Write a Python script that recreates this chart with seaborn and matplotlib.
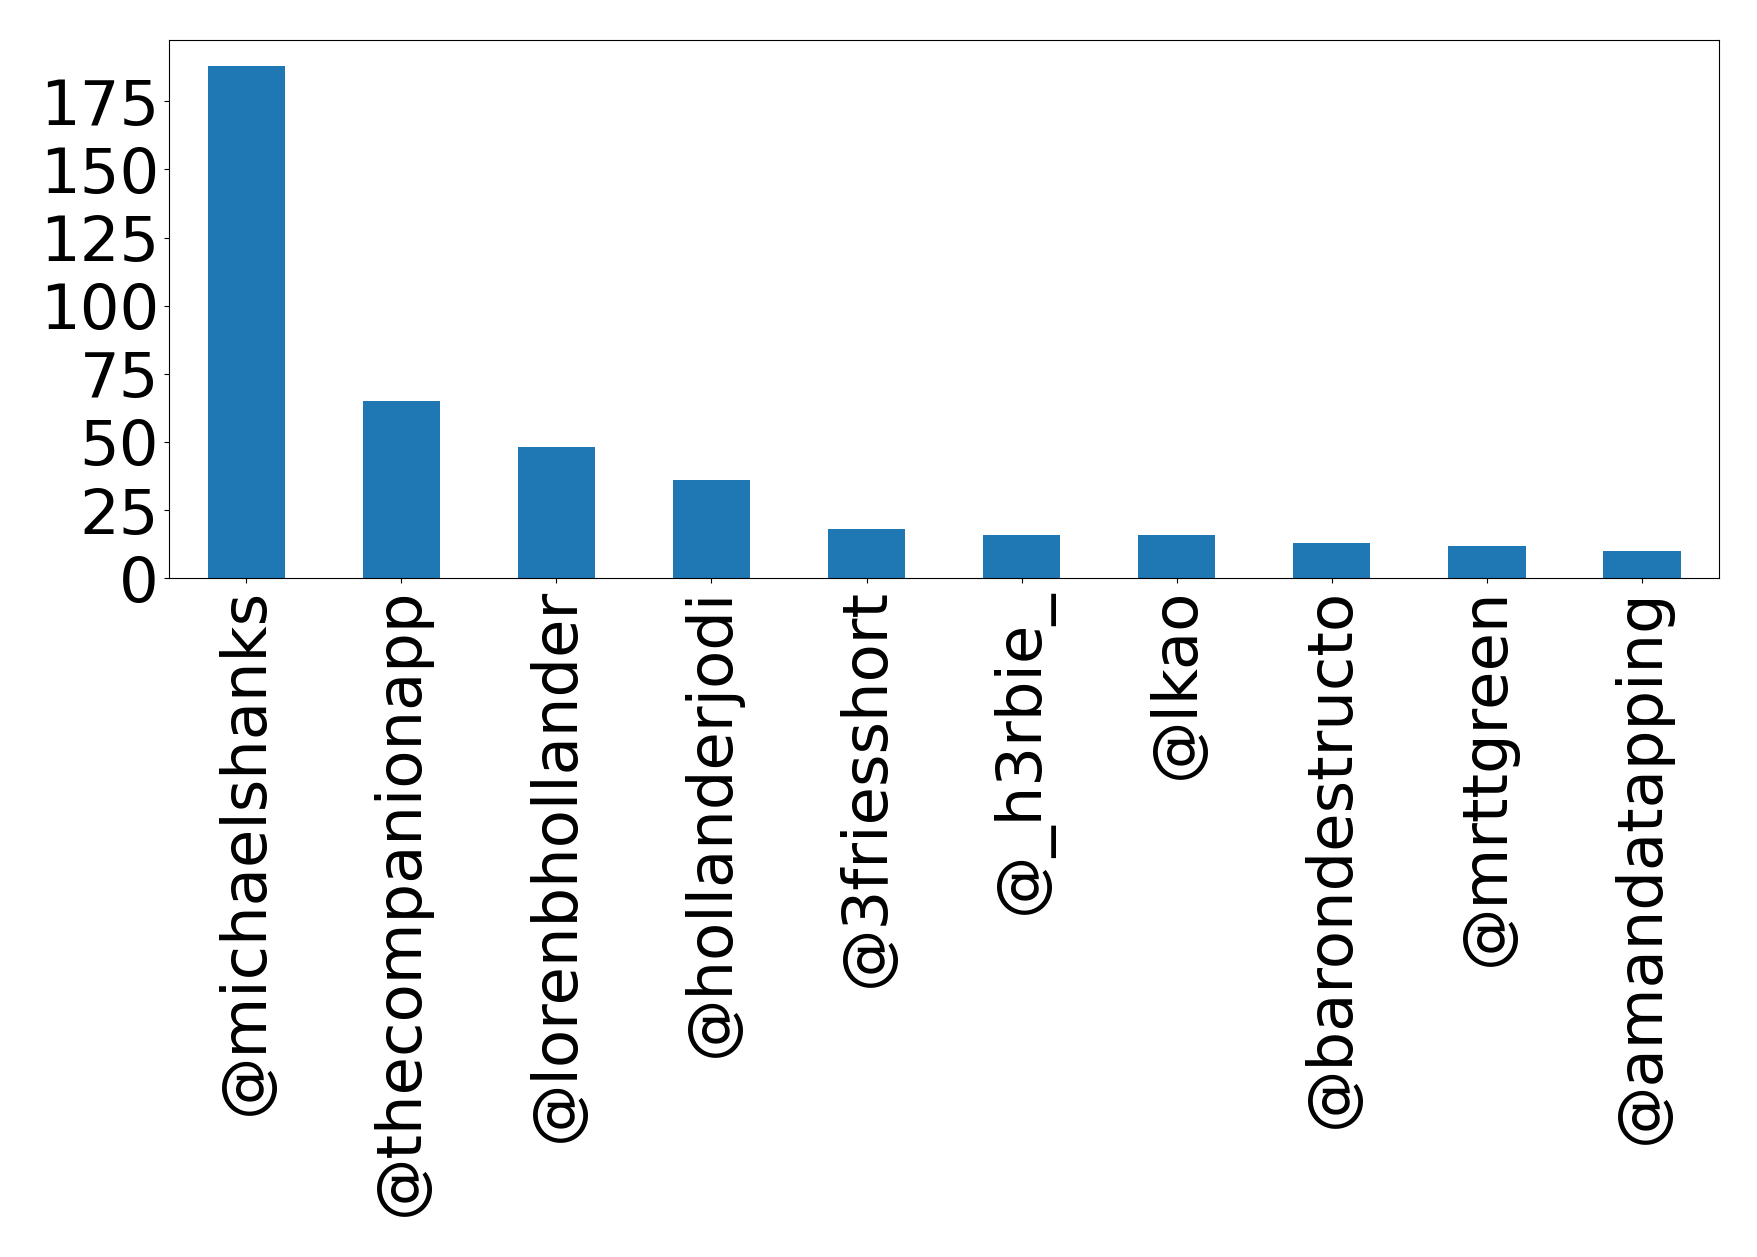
import matplotlib
matplotlib.use("Agg")
import matplotlib.pyplot as plt
from matplotlib.ticker import MultipleLocator
import seaborn as sns
import pandas as pd

handles = ["@michaelshanks", "@thecompanionapp", "@lorenbhollander", "@hollanderjodi",
           "@3friesshort", "@_h3rbie_", "@lkao", "@barondestructo", "@mrttgreen",
           "@amandatapping"]
counts = [188, 65, 48, 36, 18, 16, 16, 13, 12, 10]

df = pd.DataFrame({"handle": handles, "count": counts})

fig = plt.figure(figsize=(17.58, 12.57), dpi=100)
ax = fig.add_axes([0.096, 0.540, 0.882, 0.428])
sns.barplot(data=df, x="handle", y="count", color="#1f77b4", saturation=1,
            width=0.5, ax=ax)
ax.set_xlim(-0.5, len(handles) - 0.5)
ax.yaxis.set_major_locator(MultipleLocator(25))
ax.set_xlabel("")
ax.set_ylabel("")
ax.tick_params(axis="both", labelsize=45)
ax.tick_params(axis="x", labelrotation=90)
fig.savefig("out.png", dpi=100)
